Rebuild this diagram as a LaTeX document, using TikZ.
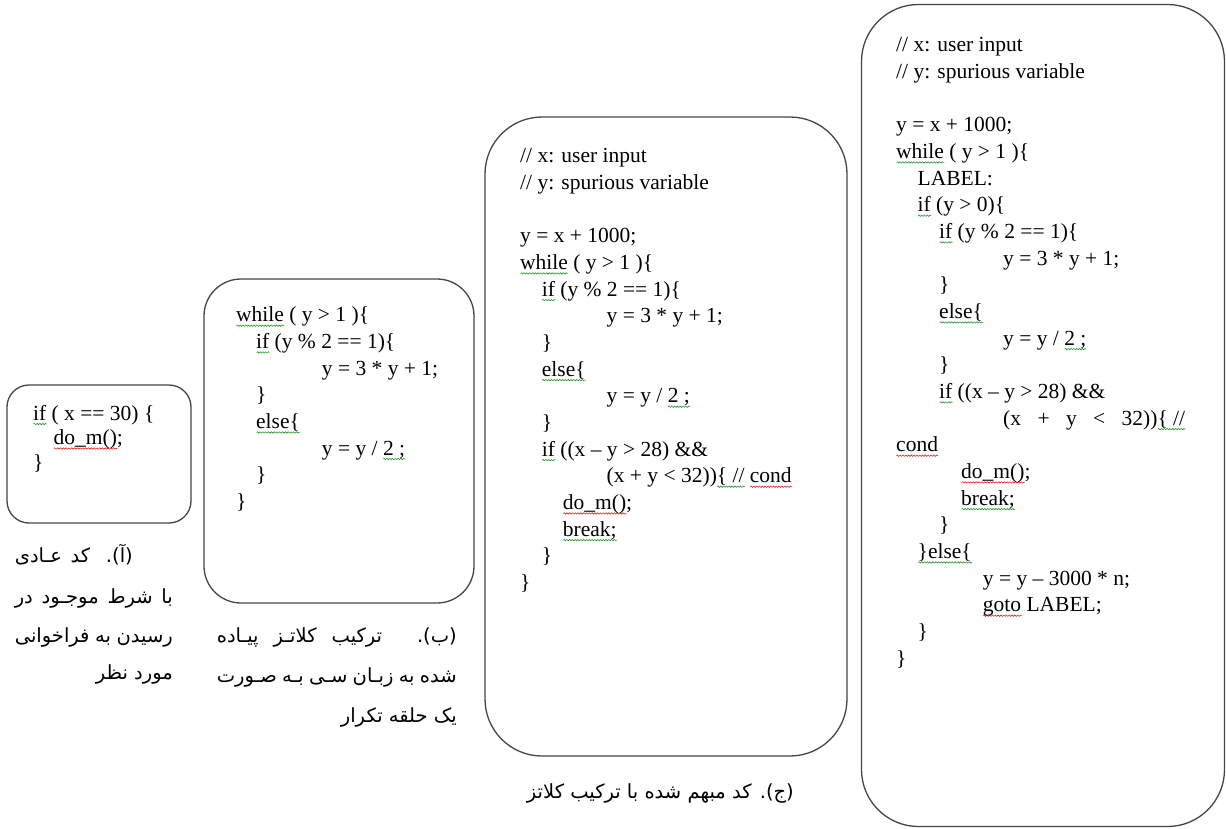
\documentclass[tikz,border=0pt]{standalone}
\usepackage{fontspec}
\setmainfont{Liberation Serif}
\newfontfamily\fa[Script=Arabic]{DejaVu Sans}
\TeXXeTstate=1
\usetikzlibrary{decorations.pathmorphing}
\definecolor{sqgreen}{RGB}{40,150,40}
\definecolor{sqred}{RGB}{225,35,35}
\definecolor{boxline}{RGB}{70,70,70}
\newsavebox\sqbox
\newlength\sqlen
\newcommand\sqmark[2]{\sbox\sqbox{#2}\setlength\sqlen{\wd\sqbox}\rlap{\raisebox{-4pt}[0pt][0pt]{\tikz[baseline={(0pt,0pt)}]\draw[#1,line width=0.6pt,decorate,decoration={snake,amplitude=0.7pt,segment length=2.8pt}] (0pt,0pt) -- (\sqlen,0pt);}}\usebox\sqbox}
\newcommand\sg[1]{\sqmark{sqgreen}{#1}}
\newcommand\sr[1]{\sqmark{sqred}{#1}}
\newcommand\codefont{\fontsize{21.5}{26}\selectfont}
\newcommand\capfont{\fa\fontsize{19.5}{24}\selectfont}
\begin{document}
\begin{tikzpicture}[x=1pt,y=-1pt,
  codebox/.style={draw=boxline,line width=1.3pt,rectangle,inner sep=0pt},
  code/.style={anchor=base west,inner sep=0pt,font=\codefont},
  captext/.style={anchor=base east,inner sep=0pt}]
\useasboundingbox (0,0) rectangle (1226,828);
\fill[white] (0,0) rectangle (1226,828);
% boxes
\node[codebox,rounded corners=22pt,minimum width=184pt,minimum height=138pt] (boxa) at (99,454) {};
\node[codebox,rounded corners=37pt,minimum width=270pt,minimum height=324pt] (boxb) at (339,441) {};
\node[codebox,rounded corners=57pt,minimum width=362pt,minimum height=639pt] (boxc) at (666,436.5) {};
\node[codebox,rounded corners=57pt,minimum width=363pt,minimum height=822pt] (boxd) at (1043,415.5) {};
% box a
\node[code] (a1) at (33,420) {\sg{if} ( x == 30) \{};
\node[code] (a2) at (53.5,444.5) {\sr{do\_m()};};
\node[code] (a3) at (33,469) {\}};
% box b
\node[code] (b1) at (236,321.7) {\sg{while} ( y > 1 )\{};
\node[code] (b2) at (256,348.4) {\sg{if} (y \% 2 == 1)\{};
\node[code] (b3) at (321.7,375) {y = 3 * y + 1;};
\node[code] (b4) at (256,401.7) {\}};
\node[code] (b5) at (256,428.4) {\sg{else\{}};
\node[code] (b6) at (321.7,455) {y = y / \sg{2 ;}};
\node[code] (b7) at (256,481.7) {\}};
\node[code] (b8) at (236,508.4) {\}};
% box c
\node[code] (c1) at (520,162.7) {// x: user input};
\node[code] (c2) at (520,189.4) {// y: spurious variable};
\node[code] (c3) at (520,242.7) {y = x + 1000;};
\node[code] (c4) at (520,269.4) {\sg{while} ( y > 1 )\{};
\node[code] (c5) at (541.7,296.1) {\sg{if} (y \% 2 == 1)\{};
\node[code] (c6) at (606.5,322.7) {y = 3 * y + 1;};
\node[code] (c7) at (541.7,349.4) {\}};
\node[code] (c8) at (541.7,376.1) {\sg{else\{}};
\node[code] (c9) at (606.5,402.7) {y = y / \sg{2 ;}};
\node[code] (c10) at (541.7,429.4) {\}};
\node[code] (c11) at (541.7,456.1) {\sg{if} ((x – y > 28) \&\&};
\node[code] (c12) at (606.5,482.7) {(x + y < 32))\sg{\{ //} \sr{cond}};
\node[code] (c13) at (562.7,509.4) {\sr{do\_m()};};
\node[code] (c14) at (562.7,536.1) {\sg{break;}};
\node[code] (c15) at (541.7,562.7) {\}};
\node[code] (c16) at (520,589.4) {\}};
% box d
\node[code] (d1) at (896,51.7) {// x: user input};
\node[code] (d2) at (896,78.4) {// y: spurious variable};
\node[code] (d3) at (896,131.7) {y = x + 1000;};
\node[code] (d4) at (896,158.4) {\sg{while} ( y > 1 )\{};
\node[code] (d5) at (917.5,185.1) {LABEL:};
\node[code] (d6) at (917.5,211.7) {\sg{if} (y > 0)\{};
\node[code] (d7) at (939,238.4) {\sg{if} (y \% 2 == 1)\{};
\node[code] (d8) at (1003,265.1) {y = 3 * y + 1;};
\node[code] (d9) at (939,291.7) {\}};
\node[code] (d10) at (939,318.4) {\sg{else\{}};
\node[code] (d11) at (1003,345.1) {y = y / \sg{2 ;}};
\node[code] (d12) at (939,371.7) {\}};
\node[code] (d13) at (939,398.4) {\sg{if} ((x – y > 28) \&\&};
\node[code] (d14) at (1003,425.1) {\hbox to 182pt{(x + y < 32))\sg{\{ //}}};
\node[code] (d15) at (896,451.7) {\sr{cond}};
\node[code] (d16) at (961,478.4) {\sr{do\_m()};};
\node[code] (d17) at (961,505.1) {\sg{break;}};
\node[code] (d18) at (939,531.7) {\}};
\node[code] (d19) at (917.5,558.4) {\sg{\}else\{}};
\node[code] (d20) at (982.7,585.1) {y = y – 3000 * n;};
\node[code] (d21) at (982.7,611.7) {\sr{goto} LABEL;};
\node[code] (d22) at (917.5,638.4) {\}};
\node[code] (d23) at (896,665.1) {\}};
% captions
\node[captext] (capa1) at (133,562) {\hbox to 118pt{\capfont\beginR (آ). کد عـادی\endR}};
\node[captext] (capa2) at (173,603) {\hbox to 158pt{\capfont\beginR با شرط موجـود در\endR}};
\node[captext] (capa3) at (173,642) {\hbox to 158pt{\capfont\beginR رسیدن به فراخوانی\endR}};
\node[captext] (capa4) at (173,679) {\hbox{\capfont\beginR مورد نظر\endR}};
\node[captext] (capb1) at (457,642) {\hbox to 240pt{\capfont\beginR (ب). ترکیب کلاتـز پیـاده\endR}};
\node[captext] (capb2) at (457,682) {\hbox to 240pt{\capfont\beginR شده به زبـان سـی بـه صـورت\endR}};
\node[captext] (capb3) at (457,722) {\hbox{\capfont\beginR یک حلقه تکرار\endR}};
\node[captext] (capc) at (794,798) {\hbox{\capfont\beginR (ج). کد مبهم شده با ترکیب کلاتز\endR}};
\end{tikzpicture}
\end{document}
